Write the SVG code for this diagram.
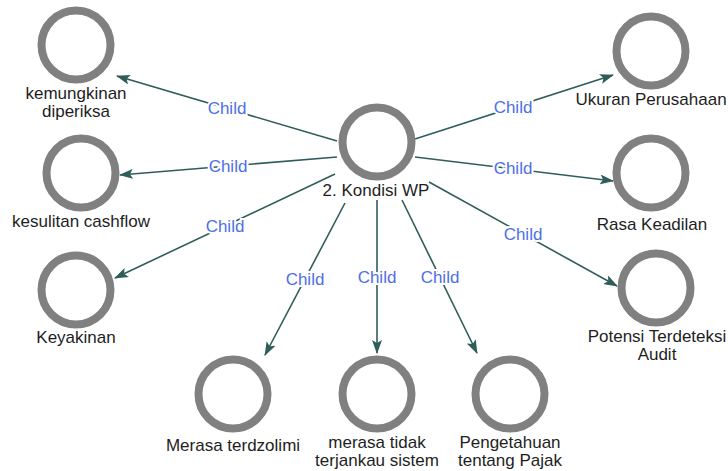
<svg xmlns="http://www.w3.org/2000/svg" width="728" height="471" viewBox="0 0 728 471">
  <style>
    .ring { fill: #ffffff; stroke: #808080; stroke-width: 8; }
    .name { font-family: "Liberation Sans", Arial, sans-serif; font-size: 17px; fill: #1e1e1e; text-anchor: middle; }
    .edge { stroke: #2f5d5a; stroke-width: 1.6; fill: none; marker-end: url(#arrow); }
    .tag { font-family: "Liberation Sans", Arial, sans-serif; font-size: 17px; fill: #4f6ee6; text-anchor: middle; stroke: #ffffff; stroke-width: 4; paint-order: stroke; }
  </style>
  <defs>
    <marker id="arrow" viewBox="0 0 14 10" refX="13" refY="5" markerWidth="14" markerHeight="10" markerUnits="userSpaceOnUse" orient="auto">
      <path d="M0,0 L14,5 L0,10 L3,5 Z" fill="#2f5d5a"/>
    </marker>
  </defs>
  <rect width="728" height="471" fill="#ffffff"/>

  <!-- connectors: parent to each child -->
  <g id="connectors">
    <line class="edge" x1="337" y1="141" x2="117" y2="76"/>
    <line class="edge" x1="337" y1="157" x2="120" y2="175"/>
    <line class="edge" x1="335" y1="174" x2="115" y2="278"/>
    <line class="edge" x1="345" y1="203" x2="265" y2="355"/>
    <line class="edge" x1="377" y1="200" x2="377" y2="353"/>
    <line class="edge" x1="402" y1="200" x2="477" y2="353"/>
    <line class="edge" x1="415" y1="139" x2="613" y2="75"/>
    <line class="edge" x1="415" y1="157" x2="613" y2="181"/>
    <line class="edge" x1="429" y1="182" x2="617" y2="286"/>
    <text class="tag" x="227" y="114">Child</text>
    <text class="tag" x="228" y="172">Child</text>
    <text class="tag" x="225" y="232">Child</text>
    <text class="tag" x="305" y="285">Child</text>
    <text class="tag" x="377" y="283">Child</text>
    <text class="tag" x="440" y="283">Child</text>
    <text class="tag" x="513" y="113">Child</text>
    <text class="tag" x="513" y="174">Child</text>
    <text class="tag" x="523" y="240">Child</text>
  </g>

  <g id="kondisi-wp">
    <circle class="ring" cx="377" cy="142" r="34.5"/>
    <text class="name" x="376" y="196">2. Kondisi WP</text>
  </g>
  <g id="kemungkinan-diperiksa">
    <circle class="ring" cx="76" cy="45" r="34.5"/>
    <text class="name" x="76" y="99">kemungkinan</text>
    <text class="name" x="76" y="117">diperiksa</text>
  </g>
  <g id="kesulitan-cashflow">
    <circle class="ring" cx="81" cy="173" r="34.5"/>
    <text class="name" x="81" y="227">kesulitan cashflow</text>
  </g>
  <g id="keyakinan">
    <circle class="ring" cx="76" cy="290" r="34.5"/>
    <text class="name" x="76" y="343">Keyakinan</text>
  </g>
  <g id="merasa-terdzolimi">
    <circle class="ring" cx="233" cy="394" r="34.5"/>
    <text class="name" x="233" y="451">Merasa terdzolimi</text>
  </g>
  <g id="merasa-tidak-terjangkau">
    <circle class="ring" cx="377" cy="394" r="34.5"/>
    <text class="name" x="377" y="448">merasa tidak</text>
    <text class="name" x="377" y="466">terjankau sistem</text>
  </g>
  <g id="pengetahuan-pajak">
    <circle class="ring" cx="510" cy="394" r="34.5"/>
    <text class="name" x="510" y="448">Pengetahuan</text>
    <text class="name" x="510" y="466">tentang Pajak</text>
  </g>
  <g id="ukuran-perusahaan">
    <circle class="ring" cx="651" cy="51" r="34.5"/>
    <text class="name" x="651" y="105">Ukuran Perusahaan</text>
  </g>
  <g id="rasa-keadilan">
    <circle class="ring" cx="651" cy="173" r="34.5"/>
    <text class="name" x="652" y="230">Rasa Keadilan</text>
  </g>
  <g id="potensi-terdeteksi-audit">
    <circle class="ring" cx="656" cy="288" r="34.5"/>
    <text class="name" x="657" y="342">Potensi Terdeteksi</text>
    <text class="name" x="657" y="360">Audit</text>
  </g>
</svg>
